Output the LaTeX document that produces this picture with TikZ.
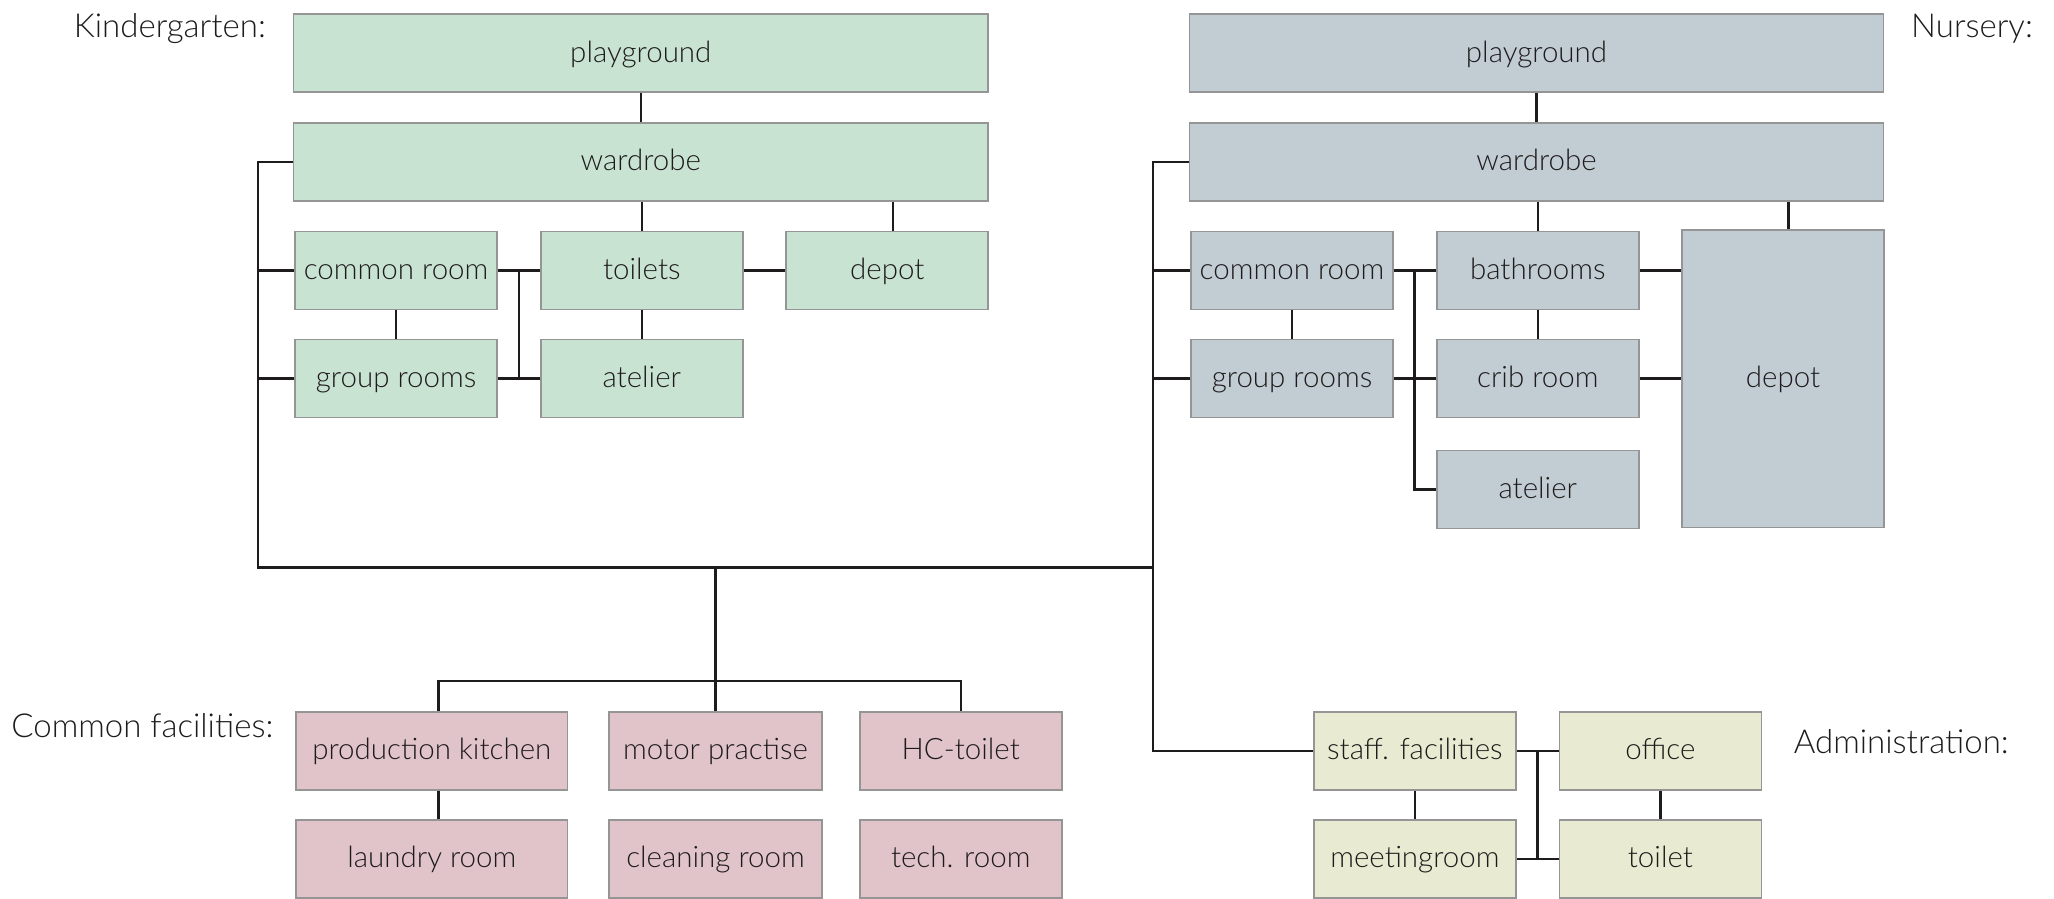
\documentclass[tikz,border=0pt]{standalone}
\usepackage{fontspec}
\setmainfont{Lato Light}
\definecolor{kgc}{HTML}{C9E3D3}
\definecolor{nsc}{HTML}{C1CCD3}
\definecolor{cfc}{HTML}{E1C4C9}
\definecolor{adc}{HTML}{E8EBD1}
\definecolor{bdc}{HTML}{959595}
\definecolor{txc}{HTML}{1E1B1C}
\tikzset{
  room/.style={draw=bdc, line width=1.6pt, minimum height=78pt, minimum width=202pt, inner sep=0pt,
    text=txc, font=\fontsize{29.5}{36}\selectfont, text height=22pt, text depth=4.2pt},
  kgroom/.style={room, fill=kgc},
  nsroom/.style={room, fill=nsc},
  cfroom/.style={room, fill=cfc},
  adroom/.style={room, fill=adc},
  link/.style={line width=2.4pt, draw=txc},
  lbl/.style={text=txc, font=\fontsize{33}{39}\selectfont, inner sep=0pt}
}
\begin{document}
\begin{tikzpicture}[x=1pt,y=-1pt]
\useasboundingbox[fill=white] (0,0) rectangle (2054,898);
% labels
\node[lbl, anchor=base east] (lkg) at (266,37) {Kindergarten:};
\node[lbl, anchor=base west] (lns) at (1911,37) {Nursery:};
\node[lbl, anchor=base east] (lcf) at (273.6,737.5) {Common facilities:};
\node[lbl, anchor=base west] (lad) at (1793.6,753) {Administration:};
% Kindergarten
\node[kgroom, minimum width=694.4pt] (kpg) at (640.8,53.2) {playground};
\node[kgroom, minimum width=694.4pt] (kwr) at (640.8,162) {wardrobe};
\node[kgroom] (kcr) at (396.1,270.3) {common room};
\node[kgroom] (ktl) at (641.8,270.3) {toilets};
\node[kgroom] (kdp) at (887.2,270.3) {depot};
\node[kgroom] (kgr) at (396.1,378.3) {group rooms};
\node[kgroom] (kat) at (641.8,378.3) {atelier};
% Nursery
\node[nsroom, minimum width=694.2pt] (npg) at (1536.5,53.2) {playground};
\node[nsroom, minimum width=694.2pt] (nwr) at (1536.5,162) {wardrobe};
\node[nsroom] (ncr) at (1292,270.3) {common room};
\node[nsroom] (nbr) at (1537.8,270.3) {bathrooms};
\node[nsroom, minimum height=297.5pt] (ndp) at (1783,378.8) {depot};
\node[nsroom] (ngr) at (1292,378.5) {group rooms};
\node[nsroom] (ncb) at (1537.8,378.5) {crib room};
\node[nsroom] (nat) at (1537.8,489.5) {atelier};
% Common facilities
\node[cfroom, minimum width=271.5pt] (pk) at (431.8,750.7) {production kitchen};
\node[cfroom, minimum width=213pt] (mp) at (715.5,750.7) {motor practise};
\node[cfroom] (hc) at (960.7,750.7) {HC-toilet};
\node[cfroom, minimum width=271.5pt] (lr) at (431.8,858.7) {laundry room};
\node[cfroom, minimum width=213pt] (cr) at (715.5,858.7) {cleaning room};
\node[cfroom] (tr) at (960.7,858.7) {tech. room};
% Administration
\node[adroom] (sf) at (1414.85,750.7) {staff. facilities};
\node[adroom] (of) at (1660.4,750.7) {office};
\node[adroom] (mr) at (1414.85,858.7) {meetingroom};
\node[adroom] (tl) at (1660.4,858.7) {toilet};
% bus coordinates
\coordinate (kb1) at (258,162);
\coordinate (kb2) at (258,567.3);
\coordinate (nb1) at (1153,162);
\coordinate (nb2) at (1153,567.3);
\coordinate (nb3) at (1153,750.7);
\coordinate (cm) at (715.5,567.3);
\coordinate (cb) at (715.5,680.7);
\coordinate (ki1) at (519,270.3);
\coordinate (ki2) at (519,378.3);
\coordinate (ni1) at (1414.6,270.3);
\coordinate (ab1) at (1537.5,750.7);
\coordinate (ab2) at (1537.5,858.7);
% main buses
\draw[link] (kwr.west) -- (kb1) -- (kb2) -- (nb2);
\draw[link] (nwr.west) -- (nb1) -- (nb3) -- (sf.west);
% Kindergarten links
\draw[link] (kpg) -- (kwr);
\draw[link] (kcr.west) -- (kcr.west -| kb1);
\draw[link] (kgr.west) -- (kgr.west -| kb1);
\draw[link] (ktl.north) -- (ktl.north |- kwr.south);
\draw[link] ([xshift=5.5pt]kdp.north) -- ([xshift=5.5pt]kdp.north |- kwr.south);
\draw[link] (ktl.east) -- (kdp.west);
\draw[link] (kcr.south) -- (kgr.north);
\draw[link] (ktl.south) -- (kat.north);
\draw[link] (kcr.east) -- (ktl.west);
\draw[link] (kgr.east) -- (kat.west);
\draw[link] (ki1) -- (ki2);
% Nursery links
\draw[link] (npg) -- (nwr);
\draw[link] (ncr.west) -- (ncr.west -| nb1);
\draw[link] (ngr.west) -- (ngr.west -| nb1);
\draw[link] (nbr.north) -- (nbr.north |- nwr.south);
\draw[link] ([xshift=5.5pt]ndp.north) -- ([xshift=5.5pt]ndp.north |- nwr.south);
\draw[link] (ncr.east) -- (nbr.west);
\draw[link] (ngr.east) -- (ncb.west);
\draw[link] (ni1) |- (nat.west);
\draw[link] (nbr.east) -- (nbr.east -| ndp.west);
\draw[link] (ncb.east) -- (ncb.east -| ndp.west);
\draw[link] (ncr.south) -- (ngr.north);
\draw[link] (nbr.south) -- (ncb.north);
% Common facilities links
\draw[link] (cm) -- (mp.north);
\draw[link] ([xshift=6.6pt]pk.north) -- ([xshift=6.6pt]pk.north |- cb) -- (cb -| hc.north) -- (hc.north);
\draw[link] ([xshift=6.6pt]pk.south) -- ([xshift=6.6pt]lr.north);
% Administration links
\draw[link] (sf.east) -- (of.west);
\draw[link] (mr.east) -- (tl.west);
\draw[link] (ab1) -- (ab2);
\draw[link] (sf.south) -- (mr.north);
\draw[link] (of.south) -- (tl.north);
\end{tikzpicture}
\end{document}
